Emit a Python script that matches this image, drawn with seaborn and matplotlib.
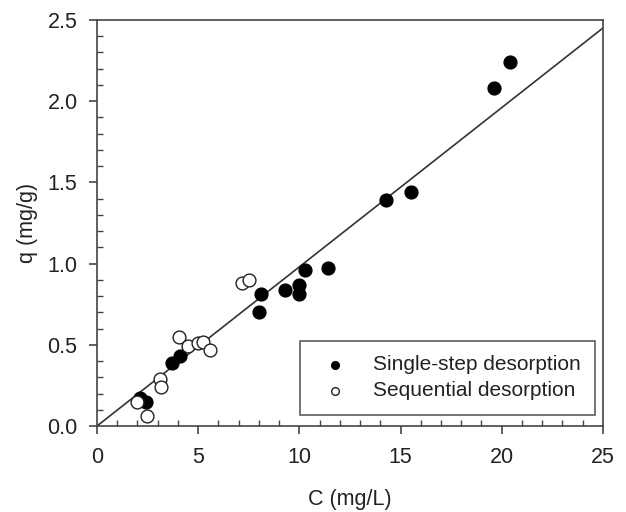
import matplotlib
matplotlib.use("Agg")
import matplotlib.pyplot as plt
from matplotlib.ticker import MultipleLocator
import seaborn as sns
import pandas as pd

# single-step desorption (filled)
single_c = [2.1, 2.4, 3.7, 4.1, 8.0, 8.1, 9.3, 10.0, 10.0, 10.3, 11.4, 14.3, 15.5, 19.6, 20.4]
single_q = [0.17, 0.15, 0.39, 0.43, 0.70, 0.81, 0.84, 0.81, 0.87, 0.96, 0.97, 1.39, 1.44, 2.08, 2.24]

# sequential desorption (open)
seq_c = [2.0, 2.45, 3.1, 3.15, 4.05, 4.5, 5.0, 5.25, 5.6, 7.15, 7.5]
seq_q = [0.15, 0.06, 0.29, 0.24, 0.55, 0.49, 0.51, 0.52, 0.47, 0.88, 0.90]

# linear fit line
fit_c = [0, 25]
fit_q = [0, 2.45]

sns.set_style("ticks")
plt.rcParams['font.family'] = ['Liberation Sans', 'DejaVu Sans']

df_single = pd.DataFrame({"C": single_c, "q": single_q})
df_seq = pd.DataFrame({"C": seq_c, "q": seq_q})
df_fit = pd.DataFrame({"C": fit_c, "q": fit_q})

fig = plt.figure(figsize=(6.26, 5.12), dpi=100)
ax = fig.add_axes([0.155, 0.168, 0.808, 0.793])

sns.lineplot(data=df_fit, x="C", y="q", color="#333333", linewidth=1.2, ax=ax)
sns.scatterplot(data=df_single, x="C", y="q", s=85, color="black", edgecolor="black",
                linewidth=1, label="Single-step desorption", ax=ax, zorder=3)
sns.scatterplot(data=df_seq, x="C", y="q", s=85, facecolor="white", edgecolor="#222222",
                linewidth=1, label="Sequential desorption", ax=ax, zorder=3)

ax.set_xlim(0, 25)
ax.set_ylim(0, 2.5)
ax.xaxis.set_major_locator(MultipleLocator(5))
ax.xaxis.set_minor_locator(MultipleLocator(1))
ax.yaxis.set_major_locator(MultipleLocator(0.5))
ax.yaxis.set_minor_locator(MultipleLocator(0.1))
ax.yaxis.set_major_formatter(matplotlib.ticker.FormatStrFormatter("%.1f"))

for s in ax.spines.values():
    s.set_color("#444444")
    s.set_linewidth(1.2)
ax.tick_params(which="major", direction="out", length=6, width=1.2, color="#444444",
               labelsize=15.5, labelcolor="#222222")
ax.tick_params(axis="x", which="major", pad=9)
ax.tick_params(axis="y", which="major", pad=8)
ax.tick_params(which="minor", direction="in", length=4, width=1, color="#444444")
ax.tick_params(top=False, right=False, which="both")

ax.set_xlabel("C (mg/L)", fontsize=15.5, labelpad=15, color="#222222")
ax.set_ylabel("q (mg/g)", fontsize=15.5, labelpad=7, color="#222222")

leg = ax.legend(loc="lower right", bbox_to_anchor=(0.985, 0.027), borderaxespad=0,
                fontsize=15, frameon=True, fancybox=False, markerscale=0.6,
                borderpad=0.7, handletextpad=0.8, labelspacing=0.35)
leg.get_frame().set_edgecolor("#333333")
leg.get_frame().set_linewidth(1.2)
for t in leg.get_texts():
    t.set_color("#222222")

fig.savefig("out.png", dpi=100)
